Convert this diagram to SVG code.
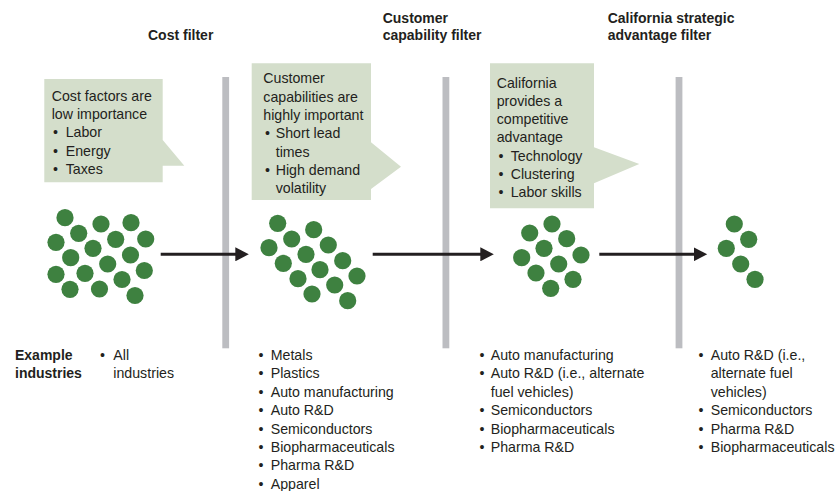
<svg xmlns="http://www.w3.org/2000/svg" width="837" height="491" viewBox="0 0 837 491">
<style>
text{font-family:"Liberation Sans",Arial,sans-serif;font-size:14.2px;fill:#231f20}
.t{font-weight:bold;font-size:14px}
.call{fill:#d4decb}
.bar{fill:#bcbdc1}
.dot{fill:#3e8140}
.arr{stroke:#231f20;stroke-width:3;fill:none}
</style>
<defs>
<marker id="ah" markerUnits="userSpaceOnUse" markerWidth="14" markerHeight="14" refX="3" refY="7" orient="auto">
<path d="M0,0 L13.5,7 L0,14 z" fill="#231f20"/>
</marker>
<circle id="d" r="8.6" class="dot"/>
</defs>
<rect width="837" height="491" fill="#fff"/>

<g id="titles">
<text class="t" x="148" y="39.5">Cost filter</text>
<text class="t" x="382.7" y="22.8">Customer</text>
<text class="t" x="382.7" y="39.5">capability filter</text>
<text class="t" x="607.7" y="22.8">California strategic</text>
<text class="t" x="607.7" y="39.5">advantage filter</text>
</g>

<g id="bars">
<rect class="bar" x="222.3" y="77" width="6.8" height="271.3"/>
<rect class="bar" x="442.5" y="77" width="6.8" height="271.3"/>
<rect class="bar" x="675.6" y="77" width="6.8" height="271.3"/>
</g>

<g id="callout1">
<path class="call" d="M44.3,79 H162.7 V140 L184.3,165.7 H162.7 V182.3 H44.3 z"/>
<text x="51.7" y="100.8">Cost factors are</text>
<text x="51.7" y="119.1">low importance</text>
<text x="53" y="137.4">•</text><text x="65.7" y="137.4">Labor</text>
<text x="53" y="155.7">•</text><text x="65.7" y="155.7">Energy</text>
<text x="53" y="174">•</text><text x="65.7" y="174">Taxes</text>
</g>

<g id="callout2">
<path class="call" d="M251.7,63.3 H371 V142.3 L401,166.7 L371,189 V200 H251.7 z"/>
<text x="263.3" y="83.3">Customer</text>
<text x="263.3" y="101.6">capabilities are</text>
<text x="263.3" y="119.9">highly important</text>
<text x="265" y="138.2">•</text><text x="275.7" y="138.2">Short lead</text>
<text x="275.7" y="156.5">times</text>
<text x="265" y="174.8">•</text><text x="275.7" y="174.8">High demand</text>
<text x="275.7" y="193.1">volatility</text>
</g>

<g id="callout3">
<path class="call" d="M490,63.3 H594 V147.3 L639.3,164 L594,183.3 V208.3 H490 z"/>
<text x="496.7" y="87.5">California</text>
<text x="496.7" y="105.8">provides a</text>
<text x="496.7" y="124.1">competitive</text>
<text x="496.7" y="142.4">advantage</text>
<text x="498.5" y="160.7">•</text><text x="510.7" y="160.7">Technology</text>
<text x="498.5" y="179">•</text><text x="510.7" y="179">Clustering</text>
<text x="498.5" y="197.3">•</text><text x="510.7" y="197.3">Labor skills</text>
</g>

<g id="cluster1">
<use href="#d" x="65" y="217.7"/><use href="#d" x="101" y="224"/><use href="#d" x="131" y="222.7"/>
<use href="#d" x="78.7" y="233.3"/><use href="#d" x="56" y="242.3"/><use href="#d" x="115.7" y="239.3"/>
<use href="#d" x="145.7" y="239"/><use href="#d" x="93" y="248.3"/><use href="#d" x="70.7" y="257.7"/>
<use href="#d" x="130.5" y="255"/><use href="#d" x="107.7" y="264"/><use href="#d" x="56" y="274.3"/>
<use href="#d" x="85" y="273.3"/><use href="#d" x="144.3" y="270.5"/><use href="#d" x="122" y="279.5"/>
<use href="#d" x="70" y="289.3"/><use href="#d" x="99.5" y="289"/><use href="#d" x="135" y="295.5"/>
</g>

<g id="cluster2">
<use href="#d" x="277.7" y="223.3"/><use href="#d" x="313.7" y="229.7"/><use href="#d" x="291.7" y="239"/>
<use href="#d" x="269" y="247.7"/><use href="#d" x="328.3" y="245"/><use href="#d" x="306" y="254.3"/>
<use href="#d" x="283.3" y="263.3"/><use href="#d" x="342.7" y="260.7"/><use href="#d" x="320" y="269.7"/>
<use href="#d" x="298" y="278.7"/><use href="#d" x="357" y="276"/><use href="#d" x="334.7" y="285"/>
<use href="#d" x="312" y="294"/><use href="#d" x="347.7" y="300.7"/>
</g>

<g id="cluster3">
<use href="#d" x="552" y="224"/><use href="#d" x="529.7" y="233"/><use href="#d" x="566.7" y="238.7"/>
<use href="#d" x="544" y="248.3"/><use href="#d" x="521.7" y="257.7"/><use href="#d" x="581" y="255"/>
<use href="#d" x="558.7" y="264"/><use href="#d" x="536" y="273"/><use href="#d" x="573" y="279.3"/>
<use href="#d" x="550.7" y="288.3"/>
</g>

<g id="cluster4">
<use href="#d" x="734.3" y="224"/><use href="#d" x="748.7" y="239.3"/><use href="#d" x="726.3" y="248.3"/>
<use href="#d" x="740.7" y="264"/><use href="#d" x="755" y="279.3"/>
</g>

<g id="connectors">
<line class="arr" x1="160.7" y1="254.3" x2="238.3" y2="254.3" marker-end="url(#ah)"/>
<line class="arr" x1="372.7" y1="254.3" x2="483.3" y2="254.3" marker-end="url(#ah)"/>
<line class="arr" x1="599.3" y1="254.3" x2="696.7" y2="254.3" marker-end="url(#ah)"/>
</g>

<g id="examples">
<text class="t" x="15" y="360">Example</text>
<text class="t" x="15" y="378.4">industries</text>
<text x="100" y="360">•</text><text x="113.3" y="360">All</text>
<text x="113.3" y="378.4">industries</text>
</g>

<g id="list2">
<text x="258.5" y="360">•</text><text x="270.7" y="360">Metals</text>
<text x="258.5" y="378.4">•</text><text x="270.7" y="378.4">Plastics</text>
<text x="258.5" y="396.8">•</text><text x="270.7" y="396.8">Auto manufacturing</text>
<text x="258.5" y="415.2">•</text><text x="270.7" y="415.2">Auto R&amp;D</text>
<text x="258.5" y="433.6">•</text><text x="270.7" y="433.6">Semiconductors</text>
<text x="258.5" y="452">•</text><text x="270.7" y="452">Biopharmaceuticals</text>
<text x="258.5" y="470.4">•</text><text x="270.7" y="470.4">Pharma R&amp;D</text>
<text x="258.5" y="488.8">•</text><text x="270.7" y="488.8">Apparel</text>
</g>

<g id="list3">
<text x="479.5" y="360">•</text><text x="490.7" y="360">Auto manufacturing</text>
<text x="479.5" y="378.4">•</text><text x="490.7" y="378.4">Auto R&amp;D (i.e., alternate</text>
<text x="490.7" y="396.8">fuel vehicles)</text>
<text x="479.5" y="415.2">•</text><text x="490.7" y="415.2">Semiconductors</text>
<text x="479.5" y="433.6">•</text><text x="490.7" y="433.6">Biopharmaceuticals</text>
<text x="479.5" y="452">•</text><text x="490.7" y="452">Pharma R&amp;D</text>
</g>

<g id="list4">
<text x="698.5" y="360">•</text><text x="710.7" y="360">Auto R&amp;D (i.e.,</text>
<text x="710.7" y="378.4">alternate fuel</text>
<text x="710.7" y="396.8">vehicles)</text>
<text x="698.5" y="415.2">•</text><text x="710.7" y="415.2">Semiconductors</text>
<text x="698.5" y="433.6">•</text><text x="710.7" y="433.6">Pharma R&amp;D</text>
<text x="698.5" y="452">•</text><text x="710.7" y="452">Biopharmaceuticals</text>
</g>
</svg>
